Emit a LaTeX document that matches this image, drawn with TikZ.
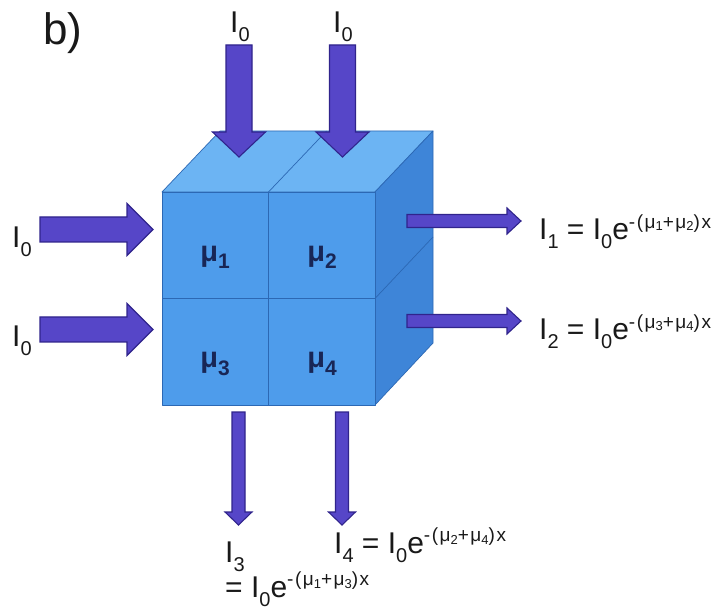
\documentclass[tikz,border=0pt]{standalone}
\usepackage{fontspec}
\setmainfont{Liberation Sans}

\definecolor{arrowfill}{RGB}{86,70,200}
\definecolor{arrowedge}{RGB}{48,36,140}
\definecolor{frontface}{RGB}{78,156,235}
\definecolor{topface}{RGB}{108,180,243}
\definecolor{sideface}{RGB}{62,133,216}
\definecolor{cubeedge}{RGB}{44,104,180}
\definecolor{labeltext}{RGB}{25,25,25}
\definecolor{mutext}{RGB}{24,38,86}

% subscripts and exponents of the intensity labels
\newcommand\isub[1]{\raisebox{-9pt}{\fontsize{20}{20}\selectfont#1}}
\newcommand\expo[1]{\raisebox{11.5pt}{\fontsize{19}{19}\selectfont
  \addfontfeatures{LetterSpace=8}#1}}
\newcommand\esub[1]{\raisebox{-2.5pt}{\fontsize{13}{13}\selectfont#1}}
\newcommand\musub[1]{\raisebox{-7pt}{\fontsize{21}{21}\selectfont#1}}

% block arrows: tail, head base, tip, centre line, shaft half width, head half width
\newcommand\hblockarrow[6]{%
  \draw[blockarrow] (#1,#4-#5) -- (#2,#4-#5) -- (#2,#4-#6) -- (#3,#4)
    -- (#2,#4+#6) -- (#2,#4+#5) -- (#1,#4+#5) -- cycle;}
\newcommand\vblockarrow[6]{%
  \draw[blockarrow] (#4-#5,#1) -- (#4-#5,#2) -- (#4-#6,#2) -- (#4,#3)
    -- (#4+#6,#2) -- (#4+#5,#2) -- (#4+#5,#1) -- cycle;}

\begin{document}
\begin{tikzpicture}[x=1pt,y=-1pt,
  blockarrow/.style={fill=arrowfill, draw=arrowedge, line width=1.1pt, line join=miter},
  face/.style={draw=cubeedge, line width=0.7pt, line join=round},
  lbl/.style={inner sep=0pt, anchor=base west, text=labeltext,
    font=\fontsize{30}{36}\selectfont},
  mulbl/.style={inner sep=0pt, anchor=base, text=mutext,
    font=\fontsize{29}{34}\selectfont\bfseries}]

\useasboundingbox (0,0) rectangle (728,609);
\fill[white] (0,0) rectangle (728,609);

% cube made of four cells
\coordinate (fTL) at (162,192);
\coordinate (fTR) at (375,192);
\coordinate (fBR) at (375,405);
\coordinate (fBL) at (162,405);
\coordinate (bTL) at (220,131);
\coordinate (bTR) at (433,131);
\coordinate (bBR) at (433,343);

\filldraw[face, fill=topface] (fTL) -- (bTL) -- (bTR) -- (fTR) -- cycle;
\filldraw[face, fill=sideface] (fTR) -- (bTR) -- (bBR) -- (fBR) -- cycle;
\filldraw[face, fill=frontface] (fTL) rectangle (fBR);
\draw[face] (268.5,192) -- (268.5,405);
\draw[face] (162,298.5) -- (375,298.5);
\draw[face] (268.5,192) -- (326.5,131);
\draw[face] (375,298.5) -- (433,237);

% attenuation coefficients
\node[mulbl] (mu1) at (215,262) {μ\musub{1}};
\node[mulbl] (mu2) at (322,262) {μ\musub{2}};
\node[mulbl] (mu3) at (215,368) {μ\musub{3}};
\node[mulbl] (mu4) at (322,368) {μ\musub{4}};

% incoming beams
\vblockarrow{45}{132}{157}{239}{13}{26.5}
\vblockarrow{45}{132}{157}{342.5}{13}{26.5}
\hblockarrow{40}{127}{153}{229.5}{12.5}{26}
\hblockarrow{40}{127}{153}{329.5}{12.5}{26}

% transmitted beams
\hblockarrow{407}{507}{521}{221}{6.5}{13}
\hblockarrow{407}{507}{521}{321}{6.5}{13}
\vblockarrow{412}{512}{525}{238.5}{6.5}{13.5}
\vblockarrow{412}{512}{525}{342}{6.5}{13.5}

% panel letter
\node[inner sep=0pt, anchor=base west, text=labeltext,
  font=\fontsize{44}{50}\selectfont] (panel) at (43,45) {b)};

% incident intensities
\node[lbl] (inT1) at (230,33) {I\isub{0}};
\node[lbl] (inT2) at (333,33) {I\isub{0}};
\node[lbl] (inL1) at (12,248) {I\isub{0}};
\node[lbl] (inL2) at (12,347) {I\isub{0}};

% transmitted intensities
\node[lbl] (out1) at (539,240)
  {I\isub{1} = I\isub{0}e\expo{-(μ\esub{1}+μ\esub{2})x}};
\node[lbl] (out2) at (539,340)
  {I\isub{2} = I\isub{0}e\expo{-(μ\esub{3}+μ\esub{4})x}};
\node[lbl] (out3a) at (225,562) {I\isub{3}};
\node[lbl] (out3b) at (225,597)
  {= I\isub{0}e\expo{-(μ\esub{1}+μ\esub{3})x}};
\node[lbl] (out4) at (334,553)
  {I\isub{4} = I\isub{0}e\expo{-(μ\esub{2}+μ\esub{4})x}};
\end{tikzpicture}
\end{document}
